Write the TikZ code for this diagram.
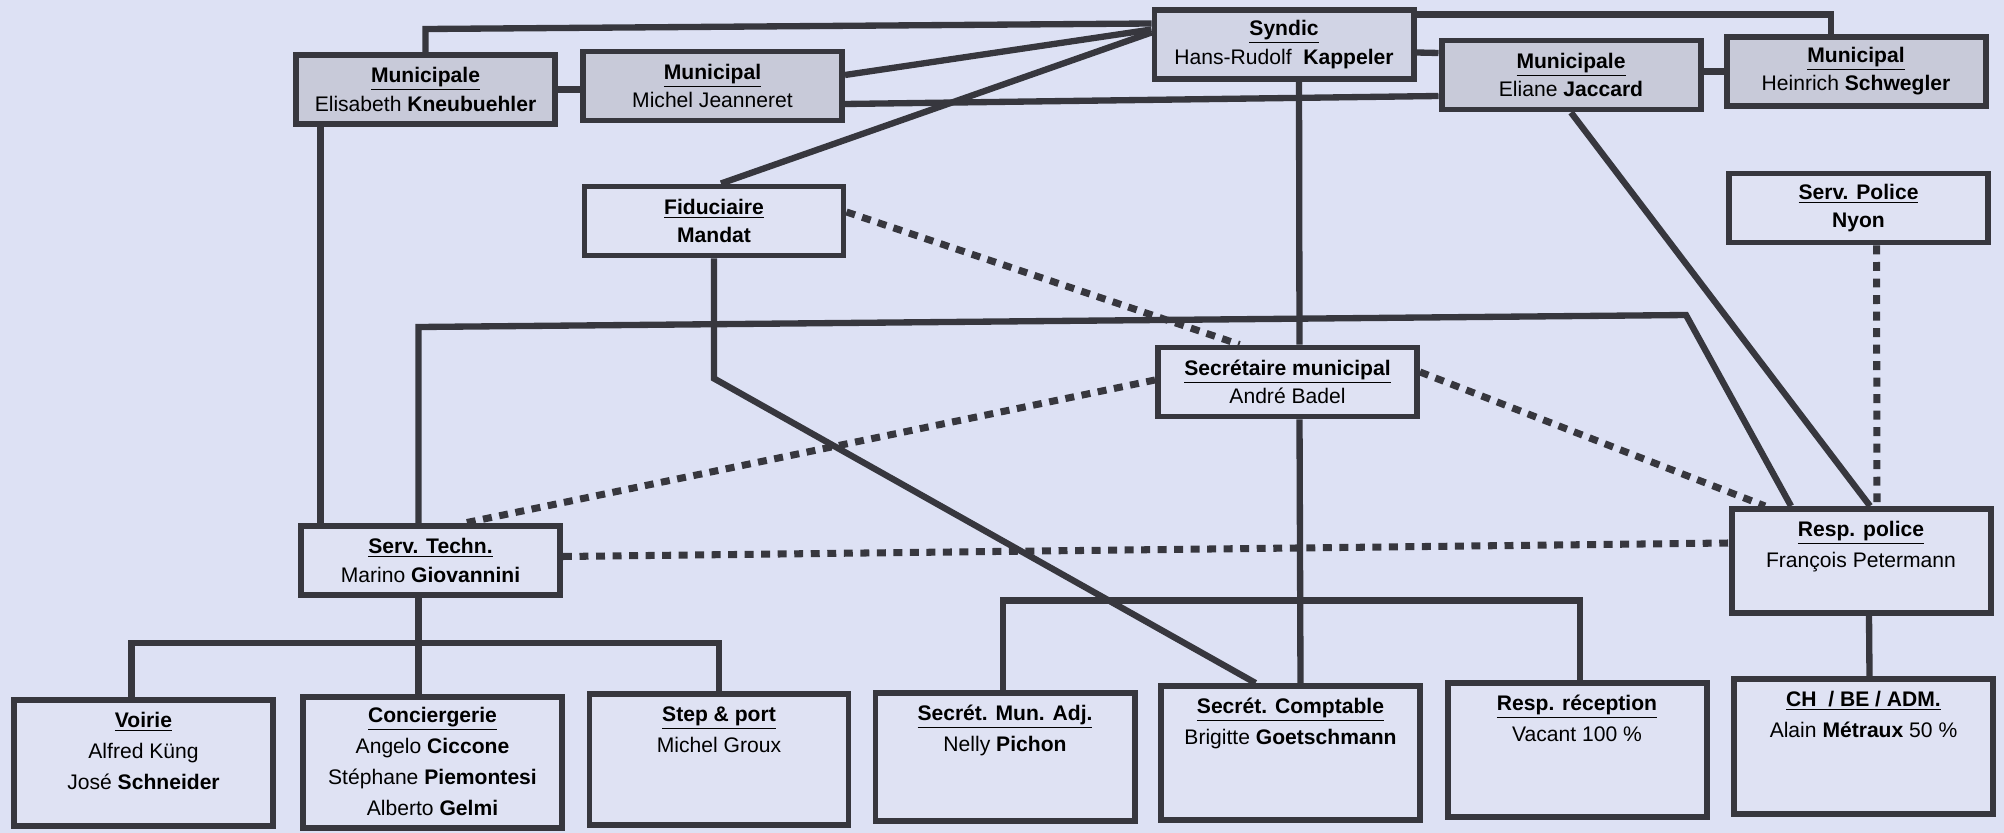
\documentclass[tikz,border=0pt]{standalone}
\usepackage{fontspec}
\setmainfont{Liberation Sans}
\usetikzlibrary{calc}

\definecolor{paper}{HTML}{DDE1F4}
\definecolor{ink}{HTML}{37373E}
\definecolor{munfill}{HTML}{C8CAD9}
\definecolor{syndfill}{HTML}{D1D4E5}
\definecolor{plainfill}{HTML}{DFE2F3}

\newcommand{\boxtitle}[1]{\underline{\textbf{#1}}}

\begin{document}
\begin{tikzpicture}[x=0.2mm, y=-0.2mm,
  box/.style={draw=ink, line width=3.4pt, fill=plainfill, minimum width=51.8mm,
    minimum height=13.8mm, inner sep=0pt, align=center,
    font=\fontsize{12}{16}\selectfont},
  munbox/.style={box, fill=munfill},
  txt/.style={anchor=north, inner sep=0pt, align=center,
    font=\fontsize{12}{17.6}\selectfont},
  link/.style={draw=ink, line width=3.6pt},
  dotlink/.style={draw=ink, line width=4pt, dash pattern=on 5.1pt off 4.3pt}]

  \fill[paper] (0,0) rectangle (2004,833);
  \useasboundingbox (0,0) rectangle (2004,833);

  % Municipalite
  \node[munbox] (mun1) at (425.5,89.5) {\boxtitle{Municipale}\\Elisabeth \textbf{Kneubuehler}};
  \node[munbox] (mun2) at (712.5,86) {\boxtitle{Municipal}\\Michel Jeanneret};
  \node[box, fill=syndfill] (syndic) at (1284,44.5) {\boxtitle{Syndic}\\Hans-Rudolf\ \ \textbf{Kappeler}};
  \node[munbox] (mun3) at (1571,75) {\boxtitle{Municipale}\\Eliane \textbf{Jaccard}};
  \node[munbox] (mun4) at (1856,71.5) {\boxtitle{Municipal}\\Heinrich \textbf{Schwegler}};

  % Services
  \node[box] (fidu) at (714,221) {\boxtitle{Fiduciaire}\\\textbf{Mandat}};
  \node[box] (police) at (1858.5,208) {\boxtitle{Serv. Police}\\\textbf{Nyon}};
  \node[box] (secr) at (1287.5,382) {\boxtitle{Secrétaire municipal}\\André Badel};
  \node[box] (techn) at (430.5,560.5) {\boxtitle{Serv. Techn.}\\Marino \textbf{Giovannini}};
  \node[box, minimum height=20.8mm] (resppol) at (1861,561) {};
  \node[txt] (resppol-t) at ($(resppol.north)+(0,15)$) {\boxtitle{Resp. police}\\François Petermann};

  % Employes
  \node[box, minimum height=25.2mm] (voirie) at (143.5,763) {};
  \node[txt] (voirie-t) at ($(voirie.north)+(0,15)$) {\boxtitle{Voirie}\\Alfred Küng\\José \textbf{Schneider}};
  \node[box, minimum height=26.2mm] (concierge) at (432.5,762.5) {};
  \node[txt] (concierge-t) at ($(concierge.north)+(0,13)$) {\boxtitle{Conciergerie}\\Angelo \textbf{Ciccone}\\Stéphane \textbf{Piemontesi}\\Alberto \textbf{Gelmi}};
  \node[box, minimum height=26.2mm] (step) at (719,759.5) {};
  \node[txt] (step-t) at ($(step.north)+(0,15)$) {\boxtitle{Step \& port}\\Michel Groux};
  \node[box, minimum height=25.6mm] (secadj) at (1005,757) {};
  \node[txt] (secadj-t) at ($(secadj.north)+(0,15)$) {\boxtitle{Secrét. Mun. Adj.}\\Nelly \textbf{Pichon}};
  \node[box, minimum height=26.8mm] (compt) at (1290.5,753) {};
  \node[txt] (compt-t) at ($(compt.north)+(0,15)$) {\boxtitle{Secrét. Comptable}\\Brigitte \textbf{Goetschmann}};
  \node[box, minimum height=26.8mm] (recep) at (1577,750) {};
  \node[txt] (recep-t) at ($(recep.north)+(0,15)$) {\boxtitle{Resp. réception}\\Vacant 100 \%};
  \node[box, minimum height=27mm] (chbe) at (1863.5,746.5) {};
  \node[txt] (chbe-t) at ($(chbe.north)+(0,15)$) {\boxtitle{CH\ \ / BE / ADM.}\\Alain \textbf{Métraux} 50 \%};

  % liens municipalite
  \draw[link] (mun1.north) -- ($(mun1.north)+(0,-23)$) -- ($(syndic.west)+(0,-21)$);
  \draw[link] (mun1.east) -- (mun1.east -| mun2.west);
  \draw[link] ($(mun2.east)+(0,-11)$) -- ($(syndic.west)+(0,-15)$);
  \draw[link] ($(mun2.east)+(0,18)$) -- ($(mun3.west)+(0,21)$);
  \draw[link] ($(fidu.north)+(7,0)$) -- ($(syndic.west)+(0,-12)$);
  \draw[link] ($(syndic.east)+(0,8)$) -- ($(mun3.west)+(0,-22)$);
  \draw[link] ($(syndic.east)+(0,-30)$) -| ($(mun4.north)+(-25,0)$);
  \draw[link] (mun4.west -| mun3.east) -- (mun4.west);

  % liens hierarchiques
  \draw[link] ($(syndic.south)+(15,0)$) -- ($(secr.north)+(12,0)$);
  \draw[link] (mun3.south) -- ($(resppol.north)+(9,0)$);
  \draw[link] (fidu.south) -- ($(fidu.south)+(0,120)$) -- ($(compt.north)+(-35,0)$);
  \draw[link] ($(mun1.south)+(-105,0)$) -- ($(techn.north)+(-110,0)$);
  \draw[link] ($(techn.north)+(-12,0)$) -- ($(techn.north)+(-12,-196)$)
    -- ($(resppol.north)+(-175,-191)$) -- ($(resppol.north)+(-70,0)$);
  \draw[link] ($(resppol.south)+(8,0)$) -- ($(chbe.north)+(6,0)$);

  % liens fonctionnels
  \draw[dotlink] ($(fidu.east)+(0,-9)$) -- ($(secr.north)+(-48,0)$);
  \draw[dotlink] ($(secr.west)+(0,-2)$) -- ($(techn.north)+(34,0)$);
  \draw[dotlink] ($(secr.east)+(0,-10)$) -- ($(resppol.north)+(-96,0)$);
  \draw[dotlink] ($(techn.east)+(0,-4)$) -- ($(resppol.west)+(0,-18)$);
  \draw[dotlink] ($(police.south)+(18,0)$) -- ($(resppol.north)+(16,0)$);

  % service technique
  \draw[link] ($(techn.south)+(-12,0)$) -- ($(techn.south)+(-12,45)$) coordinate (bus1);
  \draw[link] ($(voirie.north)+(-12,0)$) |- (bus1) -| (step.north);
  \draw[link] (bus1) -- ($(concierge.north)+(-14,0)$);

  % secretariat
  \draw[link] ($(secr.south)+(12,0)$) -- ($(compt.north)+(10,0)$);
  \draw[link] ($(secadj.north)+(-2,0)$) |- ($(secr.south)+(12,181)$) -| ($(recep.north)+(3,0)$);
\end{tikzpicture}
\end{document}
